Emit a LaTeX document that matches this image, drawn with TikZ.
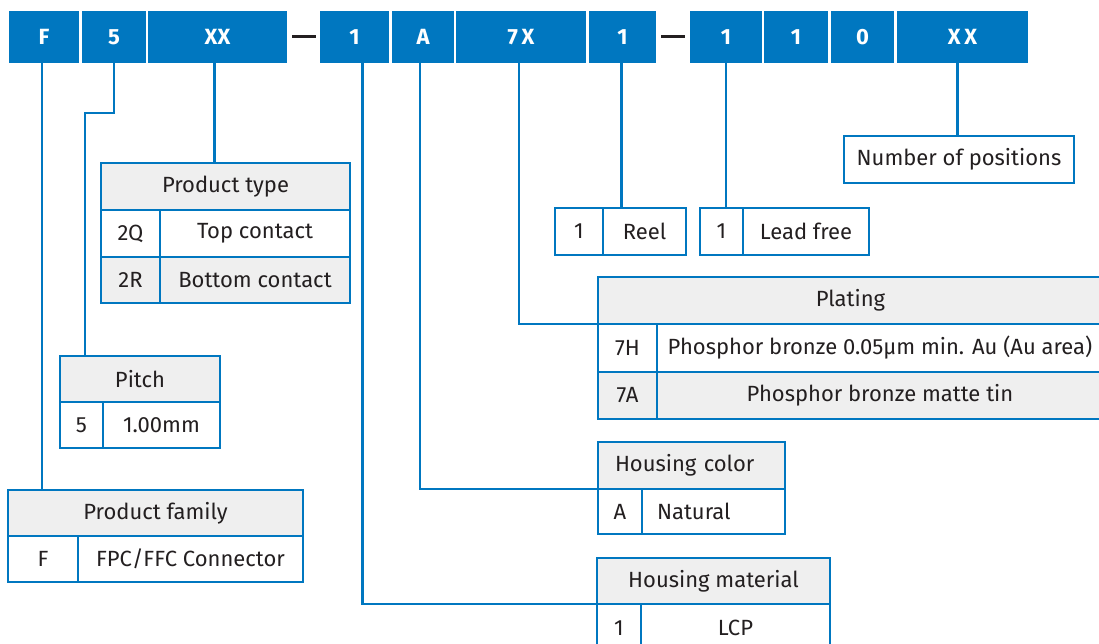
\documentclass[tikz,border=0pt]{standalone}
\usepackage{fontspec}
\setmainfont{Fira Sans}
\definecolor{tblue}{RGB}{0,119,192}
\definecolor{tgray}{RGB}{239,239,239}
\definecolor{tdark}{RGB}{35,31,32}
\tikzset{
  code/.style={fill=tblue, text=white, font=\fontsize{22}{26}\selectfont\bfseries,
    minimum width=#1, minimum height=52pt, inner sep=0pt, outer sep=0pt, anchor=north west},
  cell/.style 2 args={draw=tblue, line width=2.6pt, fill=white, text=tdark,
    font=\fontsize{22}{26}\selectfont, minimum width=#1, minimum height=#2,
    inner sep=0pt, outer sep=0pt, anchor=north west},
  head/.style={fill=tgray},
  link/.style={draw=tblue, line width=2.6pt},
  bar/.style={draw=tdark, line width=3pt}
}
\begin{document}
\begin{tikzpicture}[x=1pt,y=-1pt]
            \useasboundingbox (0,0) rectangle (1099,644);

            \node[code=70pt]  (cF)  at (9,11)   {F};
            \node[code=64pt]  (c5)  at (82,11)  {5};
            \node[code=139pt] (cXX) at (148,11) {XX};
            \node[code=69pt]  (c1)  at (320,11) {1};
            \node[code=62pt]  (cA)  at (392,11) {A};
            \node[code=130pt] (c7X) at (456,11) {7\,X};
            \node[code=67pt]  (cR)  at (589,11) {1};
            \node[code=72pt]  (cL)  at (690,11) {1};
            \node[code=64pt]  (c1b) at (764,11) {1};
            \node[code=63pt]  (c0)  at (831,11) {0};
            \node[code=131pt] (cN)  at (897,11) {X\,X};
            \draw[bar] ([xshift=5pt]cXX.east) -- ([xshift=-4pt]c1.west);
            \draw[bar] ([xshift=5pt]cR.east) -- ([xshift=-5pt]cL.west);

            \node[cell={249pt}{47pt},head] (typehead) at (101,163) {Product type};
            \node[cell={59pt}{47pt}]  (typek1) at (101,210) {2Q};
            \node[cell={190pt}{47pt}] (typev1) at (160,210) {Top contact};
            \node[cell={59pt}{46pt},head]  (typek2) at (101,257) {2R};
            \node[cell={190pt}{46pt},head] (typev2) at (160,257) {Bottom contact};

            \node[cell={160pt}{46pt},head] (pitchhead) at (60,356) {Pitch};
            \node[cell={43pt}{46pt}]  (pitchkey) at (60,402)  {5};
            \node[cell={117pt}{46pt}] (pitchval) at (103,402) {1.00mm};

            \node[cell={295pt}{46pt},head] (famhead) at (8,490) {Product family};
            \node[cell={70pt}{46pt}]  (famkey) at (8,536)  {F};
            \node[cell={225pt}{46pt}] (famval) at (78,536) {FPC/FFC Connector};

            \node[cell={230pt}{47pt}] (npos) at (844,136) {Number of positions};

            \node[cell={48pt}{47pt}]  (reelkey) at (555,208) {1};
            \node[cell={83pt}{47pt}]  (reelval) at (603,208) {Reel};
            \node[cell={43pt}{47pt}]  (leadkey) at (700,208) {1};
            \node[cell={126pt}{47pt}] (leadval) at (743,208) {Lead free};

            \node[cell={505pt}{47pt},head] (plathead) at (598,277) {Plating};
            \node[cell={59pt}{48pt}]  (platk1) at (598,324) {7H};
            \node[cell={446pt}{48pt}] (platv1) at (657,324) {Phosphor bronze 0.05µm min. Au (Au area)};
            \node[cell={59pt}{47pt},head]  (platk2) at (598,372) {7A};
            \node[cell={446pt}{47pt},head] (platv2) at (657,372) {Phosphor bronze matte tin};

            \node[cell={187pt}{47pt},head,text width=153pt,inner xsep=17pt,align=left] (colhead) at (598,442) {Housing color};
            \node[cell={44pt}{45pt}]  (colkey) at (598,489) {A};
            \node[cell={143pt}{45pt},text width=113pt,inner xsep=15pt,align=left] (colval) at (642,489) {Natural};

            \node[cell={233pt}{46pt},head] (mathead) at (597,558) {Housing material};
            \node[cell={44pt}{48pt}]  (matkey) at (597,604) {1};
            \node[cell={189pt}{48pt}] (matval) at (641,604) {LCP};

            \draw[link] ([xshift=-2pt]cF.south) |- (famhead.north);
            \coordinate (bend5) at (85,113);
            \draw[link] (c5.south) |- (bend5) -- (bend5 |- pitchhead.north);
            \draw[link] ([xshift=-3pt]cXX.south) |- (typehead.north);
            \draw[link] ([xshift=8pt]c1.south) |- (mathead.south west);
            \draw[link] ([xshift=-3pt]cA.south) |- (colhead.south west);
            \draw[link] ([xshift=-2pt]c7X.south) |- (plathead.south west);
            \draw[link] ([xshift=-1pt]cR.south) |- (reelval.north west);
            \draw[link] (cL.south) |- (leadkey.north east);
            \draw[link] ([xshift=-5pt]cN.south) |- (npos.north);
        \end{tikzpicture}
\end{document}
